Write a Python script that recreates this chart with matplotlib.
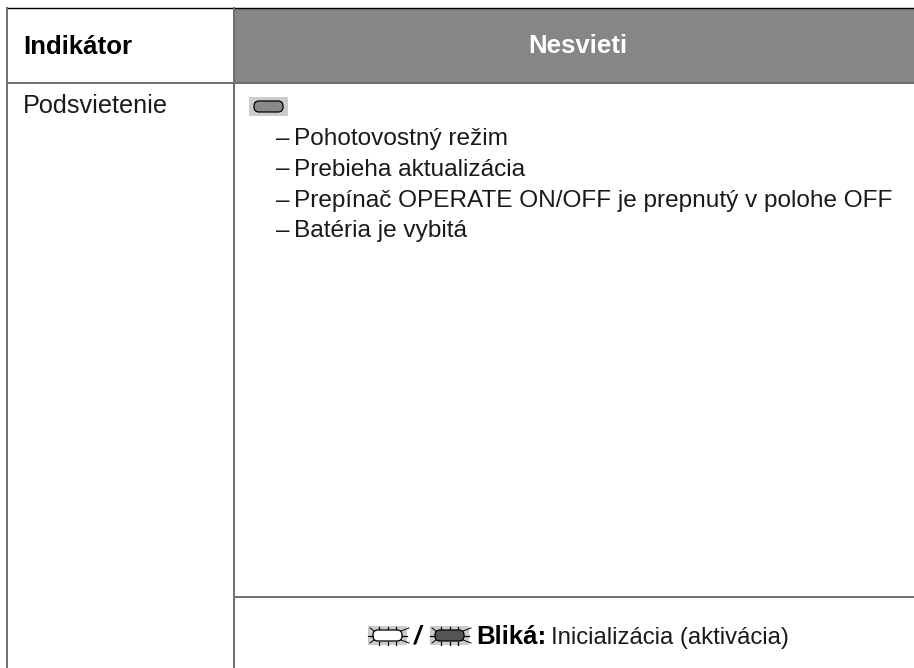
import matplotlib
matplotlib.use("Agg")
import matplotlib.pyplot as plt
from matplotlib.patches import Rectangle, FancyBboxPatch

# Contenu du tableau
col_titre = "Indikátor"
col_etat = "Nesvieti"
ligne_nom = "Podsvietenie"
puces = [
    "Pohotovostný režim",
    "Prebieha aktualizácia",
    "Prepínač OPERATE ON/OFF je prepnutý v polohe OFF",
    "Batéria je vybitá",
]
blika_gras = "Bliká:"
blika_texte = "Inicializácia (aktivácia)"

plt.rcParams['font.family'] = ['Liberation Sans', 'DejaVu Sans']

W, H = 914, 668
fig = plt.figure(figsize=(W / 100, H / 100), dpi=100)
ax = fig.add_axes([0, 0, 1, 1])
ax.set_xlim(0, W)
ax.set_ylim(H, 0)
ax.axis("off")

GRIS = "#868686"
TRAIT = "#6e6e6e"
NOIR = "#1a1a1a"
FS = 17.6
FS_GRAS = 18.6


def trait(x0, y0, x1, y1, couleur=TRAIT, lw=1.4):
    ax.plot([x0, x1], [y0, y1], color=couleur, lw=lw, solid_capstyle="butt", zorder=2)


def led(x, y, fond, rayons=False):
    # petit voyant sur fond gris clair
    ax.add_patch(Rectangle((x, y), 39, 19, fc="#cccccc", ec="none", zorder=3))
    ax.add_patch(FancyBboxPatch((x + 5, y + 4), 29, 11, boxstyle="round,pad=0,rounding_size=5",
                                fc=fond, ec="black", lw=0.9, zorder=4))
    if rayons:
        for dx in (11, 19.5, 28):
            ax.plot([x + dx, x + dx], [y + 0.5, y + 3], color="black", lw=0.9, zorder=4)
            ax.plot([x + dx, x + dx], [y + 16, y + 18.5], color="black", lw=0.9, zorder=4)
        for x0, x1 in ((x, x + 5), (x + 39, x + 34)):
            ax.plot([x0, x1], [y + 9.5, y + 9.5], color="black", lw=0.9, zorder=4)
            ax.plot([x0 + 2, x1 + (1 if x0 == x else -1)], [y + 2, y + 5], color="black", lw=0.7, zorder=4)
            ax.plot([x0 + 2, x1 + (1 if x0 == x else -1)], [y + 17, y + 14], color="black", lw=0.7, zorder=4)


# En-tête
ax.add_patch(Rectangle((234, 8), 680, 75, fc=GRIS, ec="none", zorder=1))
trait(6.5, 7.5, 914, 7.5, "black", 1.0)
trait(7, 83, 914, 83)
trait(7, 7, 7, 668)
trait(234, 7, 234, 668)
trait(234, 597, 914, 597)

ax.text(23, 54, col_titre, fontsize=FS_GRAS, fontweight="bold", color="black", va="baseline")
ax.text(578, 53, col_etat, fontsize=FS_GRAS, fontweight="bold", color="white", va="baseline", ha="center")
ax.text(23, 113, ligne_nom, fontsize=18.2, color=NOIR, va="baseline")

led(249, 97, "#888888")

lignes_y = [145, 175.5, 206.5, 237]
for p, y in zip(puces, lignes_y):
    ax.text(276, y, "–", fontsize=FS, color=NOIR, va="baseline")
    ax.text(294, y, p, fontsize=FS, color=NOIR, va="baseline")

# Dernière ligne
led(368, 626, "white", rayons=True)
ax.text(418, 644, "/", fontsize=FS_GRAS, fontweight="bold", style="italic", color="black", va="baseline", ha="center")
led(430, 626, "#555555", rayons=True)
ax.text(476, 644, blika_gras, fontsize=FS_GRAS, fontweight="bold", color="black", va="baseline")
ax.text(551, 644, blika_texte, fontsize=17.2, color=NOIR, va="baseline")

fig.savefig("out.png", dpi=100)
